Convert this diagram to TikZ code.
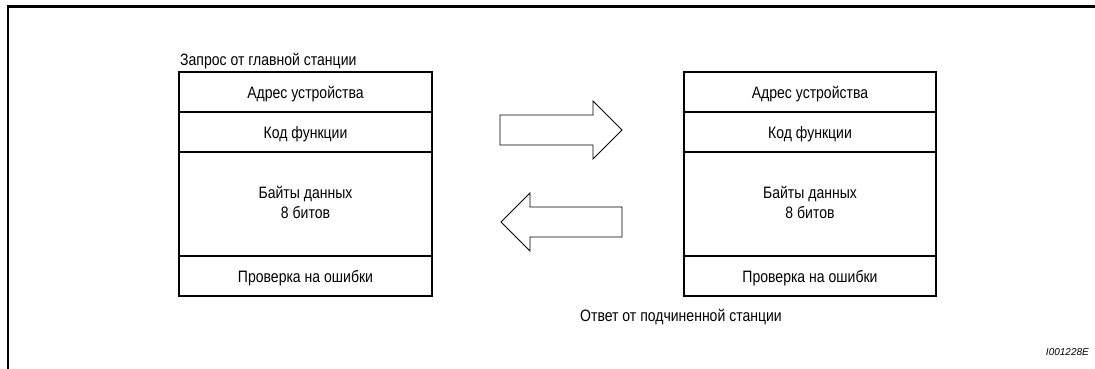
\documentclass[tikz,border=0pt]{standalone}
\usepackage{fontspec}
\setmainfont{Liberation Sans}[FakeStretch=0.85]
\newfontfamily\codefont{Liberation Sans}
\begin{document}
\begin{tikzpicture}[x=1pt,y=-1pt,
  every node/.style={font=\fontsize{16.5}{20}\selectfont, inner sep=0pt},
  rowbox/.style={draw, line width=2pt, minimum height=#1, text height=12pt, text depth=0pt},
  rowbox/.default=40pt,
  blockarrow/.style={draw, line width=0.9pt, line join=miter}]
\useasboundingbox (0,0) rectangle (1095,369);
% frame
\draw[line width=2.2pt] (8,369) -- (8,6.5) -- (1095,6.5);

% left block
\node[anchor=base west] (reqlabel) at (180,66) {Запрос от главной станции};
\node[rowbox, minimum width=253pt] (la) at (305.5,92) {Адрес устройства};
\node[rowbox, minimum width=253pt] (lk) at (305.5,132) {Код функции};
\node[rowbox=104pt, minimum width=253pt] (ld) at (305.5,204) {};
\node[anchor=base] (ld1) at (ld.center |- 0,198) {Байты данных};
\node[anchor=base] (ld2) at (ld.center |- 0,218) {8 битов};
\node[rowbox, minimum width=253pt] (lc) at (305.5,276) {Проверка на ошибки};

% right block
\node[rowbox, minimum width=252pt] (ra) at (810,92) {Адрес устройства};
\node[rowbox, minimum width=252pt] (rk) at (810,132) {Код функции};
\node[rowbox=104pt, minimum width=252pt] (rd) at (810,204) {};
\node[anchor=base] (rd1) at (rd.center |- 0,198) {Байты данных};
\node[anchor=base] (rd2) at (rd.center |- 0,218) {8 битов};
\node[rowbox, minimum width=252pt] (rc) at (810,276) {Проверка на ошибки};
\node[anchor=base west] (resplabel) at (580,321) {Ответ от подчиненной станции};

% block arrows
\draw[blockarrow] (500,115) -- (593,115) -- (593,101) -- (622,130) -- (593,159) -- (593,145) -- (500,145) -- cycle;
\draw[blockarrow] (622,207) -- (530,207) -- (530,193) -- (501,222) -- (530,251) -- (530,237) -- (622,237) -- cycle;

% figure code
\node[anchor=base east, font=\codefont\itshape\fontsize{10}{12}\selectfont] (code) at (1089,355) {I001228E};
\end{tikzpicture}
\end{document}
